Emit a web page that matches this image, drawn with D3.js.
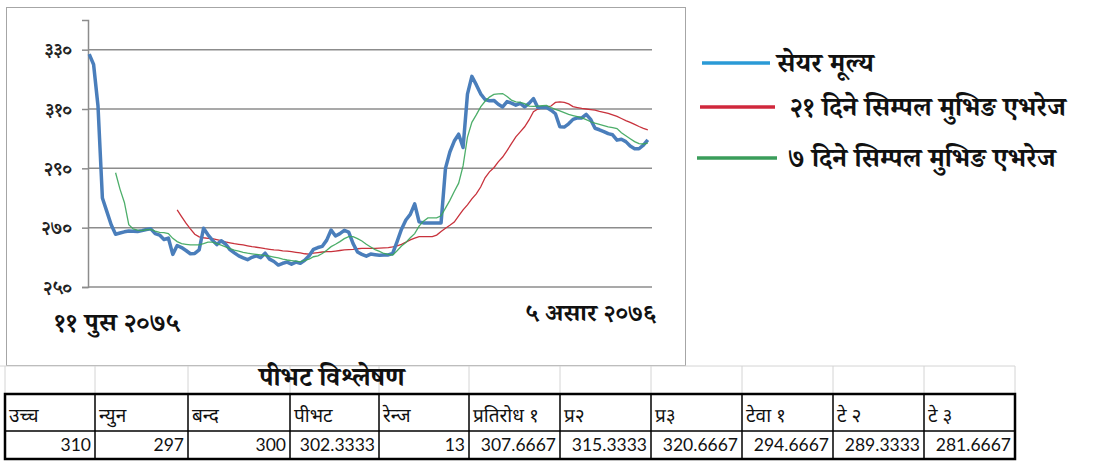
<!DOCTYPE html>
<html><head><meta charset="utf-8">
<script src="https://cdn.jsdelivr.net/npm/d3@7"></script>
<style>
html,body{margin:0;padding:0;background:#fff;}
svg{display:block;}
</style></head>
<body>
<svg id="c" width="1100" height="471"></svg>
<script>
// ---------- DATA ----------
const sharePrice = [328.5,325,311,280,275.5,271,267.8,268.2,268.6,268.9,268.8,268.7,269,269.4,269.6,268,267.5,266,266.5,261,
264,263.3,262.3,261.2,261.3,262.5,269.8,267.6,265.8,264.3,265.6,264.5,262.6,261.5,260.5,259.8,259.2,260,260.5,259.9,
261.4,259.4,258.6,257.4,258,258.4,257.7,258.4,258,259,260.5,262.7,263.3,263.7,265.8,269.2,267.2,268,269.1,268.5,
264.6,261.8,261,260.4,261.1,260.9,260.7,260.8,260.8,261.3,265.3,269.5,272.6,274.5,278,272,271.6,271.6,271.6,271.6,
271.6,290,295.5,299.2,301.5,297,315,321,318.2,315.1,313.2,312.8,312.9,311.6,310.7,312.5,312,311.3,311.9,310.7,
311.9,313.5,310.5,310.5,310.5,309.6,308.4,304,303.9,305,306.5,307,307,308.2,306.5,303.5,303,302.4,301.7,301.3,
299.5,299.8,299,297.5,296.6,296.6,297.8,299.6];

// 7-day simple moving average (starts at trading day 7, index 6)
const sma7Start = 6;
const sma7 = [288.5,283,278.5,271,269.6,269.2,269,269.3,269.4,268.8,268.4,268.3,268,266.4,265.3,264.6,264.4,264.2,264.2,264.2,
264.6,265.1,265.1,264.6,264.1,263.5,262.9,262.4,262.1,261.7,261.4,261.2,261,260.8,260.6,260.4,260.1,259.8,259.4,259.1,
258.9,258.7,258.5,259,259.4,260.2,260.5,261.3,262.4,263.6,264.4,265.3,266.3,267,267,266.3,265.5,264.4,263.5,262.6,
262,261.3,261,260.8,262.2,263.8,265,266.6,268,270.5,272.2,273.3,273.3,273.3,274,276.6,279.2,282.2,285,290.8,
300.5,305.5,308,310.7,312.6,314,314.9,315.1,315.2,314.2,313,312.4,312.2,311.8,311,310.9,311,311.1,311.2,310.5,
309.9,309.4,308.8,308.2,307.8,307.4,307,306.4,305.7,305.2,304.8,304.4,304,303.7,303.4,302,301,300,299,298.3,
298.2,298.5];

// 21-day simple moving average (starts at trading day 21, index 20)
const sma21Start = 20;
const sma21 = [276,273.7,271.5,269.6,267.8,266.9,266.6,266.4,266.3,266,265.6,265.2,264.9,264.6,264.4,264.2,263.9,263.6,263.4,263.2,
262.9,262.7,262.5,262.4,262.2,262.1,261.9,261.7,261.5,261.2,261.1,261.4,261.6,261.8,261.9,261.9,262.1,262.3,262.5,262.6,
262.7,262.9,263,263,263,263,263.1,263.2,263.3,263.5,263.9,264.4,265.1,265.9,266.5,267,267,267,267,267.5,
268.7,269.8,270.8,271.9,274,276,277.7,279.7,281.4,283.7,286.8,288.8,290.2,292.2,293.8,296,298.3,300.6,302.3,304,
306.3,309.1,310,310.4,310.6,311,312.2,312.4,312.2,311.7,310.8,310.5,310.2,310,309.8,309.6,309.2,308.9,308.5,308,
307.5,306.8,306.1,305.5,304.8,304.1,303.5,303];

const yTicks = [250, 270, 290, 310, 330];
const yTickLabels = ["२५०", "२७०", "२९०", "३१०", "३३०"];
const startDateLabel = "११ पुस २०७५";
const endDateLabel = "५ असार २०७६";
const legendLabels = ["सेयर मूल्य", "२१ दिने सिम्पल मुभिङ एभरेज", "७ दिने सिम्पल मुभिङ एभरेज"];

const tableTitle = "पीभट विश्लेषण";
const tableHeaders = ["उच्च", "न्युन", "बन्द", "पीभट", "रेन्ज", "प्रतिरोध १", "प्र२", "प्र३", "टेवा १", "टे २", "टे ३"];
const tableValues = ["310", "297", "300", "302.3333", "13", "307.6667", "315.3333", "320.6667", "294.6667", "289.3333", "281.6667"];

// ---------- DRAW ----------
const svg = d3.select("#c");
const DEV = '"Noto Serif Devanagari","Noto Sans Devanagari","Lohit Devanagari","Mangal","FreeSerif",serif';
const DEVS = '"Noto Sans Devanagari","Lohit Devanagari","Mangal","FreeSans",sans-serif';

// chart frame
svg.append("rect").attr("x", 6.5).attr("y", 7.5).attr("width", 679).attr("height", 358)
  .attr("fill", "#fff").attr("stroke", "#a6a6a6").attr("stroke-width", 1);

const N = sharePrice.length;
const x = d3.scalePoint().domain(d3.range(N)).range([87, 650]).padding(0.5);
const y = d3.scaleLinear().domain([250, 340]).range([287, 20]);
const plotL = 88, plotR = 652;

// gridlines
svg.append("g").selectAll("line").data(yTicks).join("line")
  .attr("x1", plotL).attr("x2", plotR)
  .attr("y1", d => y(d)).attr("y2", d => y(d))
  .attr("stroke", "#8c8c8c").attr("stroke-width", 1.5);

// y axis
const yAxis = d3.axisLeft(y).tickValues(yTicks).tickSize(6)
  .tickFormat(d => yTickLabels[yTicks.indexOf(d)]);
const ga = svg.append("g").attr("transform", `translate(${plotL},0)`).call(yAxis);
ga.select(".domain").attr("stroke", "#8c8c8c").attr("stroke-width", 1.5);
ga.selectAll(".tick line").attr("stroke", "#8c8c8c").attr("stroke-width", 1.5);
ga.selectAll(".tick text").attr("x", -16).attr("fill", "#222")
  .style("font-family", DEV).style("font-size", "19px").style("font-weight", "bold");

// lines
const line = d3.line().x(d => x(d.i)).y(d => y(d.v)).curve(d3.curveLinear);
const pSeries = sharePrice.map((v, i) => ({i, v}));
const s7 = sma7.map((v, k) => ({i: k + sma7Start, v}));
const s21 = sma21.map((v, k) => ({i: k + sma21Start, v}));

svg.append("path").datum(s21).attr("d", line).attr("fill", "none")
  .attr("stroke", "#c8323c").attr("stroke-width", 1.3);
svg.append("path").datum(pSeries).attr("d", line).attr("fill", "none")
  .attr("stroke", "#4a7ebb").attr("stroke-width", 3.5).attr("stroke-linejoin", "round");
svg.append("path").datum(s7).attr("d", line).attr("fill", "none")
  .attr("stroke", "#3aa55a").attr("stroke-width", 1.3).attr("opacity", 0.9);

// date labels
svg.append("text").attr("x", 54).attr("y", 331).text(startDateLabel)
  .style("font-family", DEV).style("font-size", "26px").style("font-weight", "bold").attr("fill", "#111");
svg.append("text").attr("x", 656).attr("y", 321).attr("text-anchor", "end").text(endDateLabel)
  .style("font-family", DEV).style("font-size", "24.5px").style("font-weight", "bold").attr("fill", "#111");

// legend
const legColors = ["#2a9ad6", "#d0283c", "#3a9d5a"];
const legY = [63, 107, 158];
const legLine = [[702, 770], [700, 775], [697, 777]];
const legTextX = [777, 790, 788];
const lg = svg.append("g");
legendLabels.forEach((t, i) => {
  lg.append("line").attr("x1", legLine[i][0]).attr("x2", legLine[i][1])
    .attr("y1", legY[i]).attr("y2", legY[i]).attr("stroke", legColors[i]).attr("stroke-width", 3.5);
  lg.append("text").attr("x", legTextX[i]).attr("y", legY[i] + 9).text(t)
    .style("font-family", DEV).style("font-size", "26.5px").style("font-weight", "bold").attr("fill", "#111");
});

// table
const colX = [5, 95, 188, 290, 379, 469, 560, 651, 742, 833, 924, 1015];
const rowTop = 366, hdrTop = 394, valTop = 431, bot = 459;
const tg = svg.append("g");
tg.append("line").attr("x1", 0).attr("x2", 1015).attr("y1", rowTop).attr("y2", rowTop)
  .attr("stroke", "#d4d4d4").attr("stroke-width", 1);
colX.forEach(cx => tg.append("line").attr("x1", cx).attr("x2", cx).attr("y1", rowTop).attr("y2", hdrTop)
  .attr("stroke", "#d4d4d4").attr("stroke-width", 1));
tg.append("text").attr("x", 332).attr("y", 386).attr("text-anchor", "middle").text(tableTitle)
  .style("font-family", DEV).style("font-size", "26.5px").style("font-weight", "bold").attr("fill", "#111");

tableHeaders.forEach((h, i) => {
  tg.append("text").attr("x", colX[i] + 4).attr("y", 422).text(h)
    .style("font-family", DEVS).style("font-size", "19px").attr("fill", "#111");
  tg.append("text").attr("x", colX[i + 1] - 4).attr("y", 451).attr("text-anchor", "end").text(tableValues[i])
    .style("font-family", "Lato, 'Open Sans', sans-serif").style("font-size", "17.5px").attr("fill", "#111");
});
colX.slice(1, -1).forEach(cx => tg.append("line").attr("x1", cx).attr("x2", cx).attr("y1", hdrTop).attr("y2", bot)
  .attr("stroke", "#000").attr("stroke-width", 1.5));
tg.append("line").attr("x1", colX[0]).attr("x2", colX[11]).attr("y1", valTop).attr("y2", valTop)
  .attr("stroke", "#000").attr("stroke-width", 1.5);
tg.append("rect").attr("x", colX[0]).attr("y", hdrTop).attr("width", colX[11] - colX[0]).attr("height", bot - hdrTop)
  .attr("fill", "none").attr("stroke", "#000").attr("stroke-width", 2.5);
</script>
</body></html>
